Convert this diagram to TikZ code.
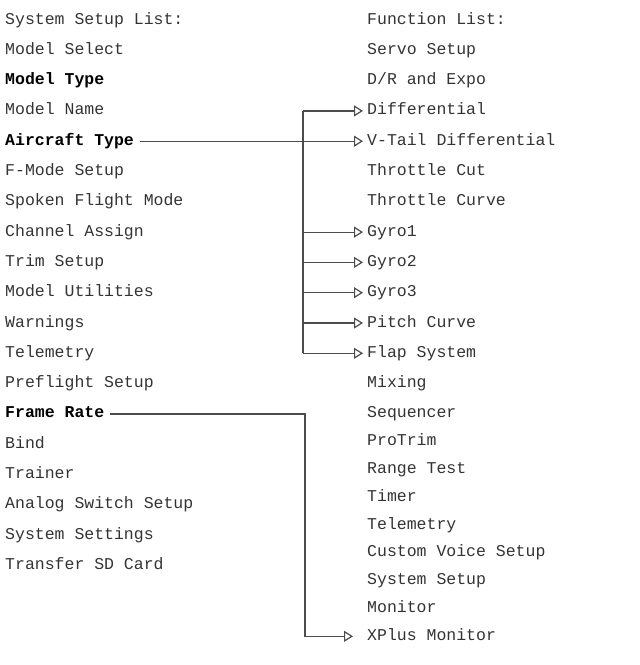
\documentclass[tikz,border=0pt]{standalone}
\usepackage{fontspec}
\setmonofont{Liberation Mono}
\usetikzlibrary{arrows.meta}
\begin{document}
\begin{tikzpicture}[x=1pt,y=-1pt,
  it/.style={anchor=west,inner sep=0pt,text height=11pt,text depth=3pt,font=\fontsize{16.5}{16}\ttfamily,text=black!80},
  bt/.style={it,font=\fontsize{16.5}{16}\ttfamily\bfseries,text=black},
  ln/.style={draw=black!70,line width=1.2pt},
  ar/.style={ln,-{Triangle[open,length=9pt,width=11pt,line width=1.2pt]}}]
\useasboundingbox (0,0) rectangle (640,665);
\foreach \t [count=\i from 0] in {System Setup List:,Model Select,,Model Name,,F-Mode Setup,Spoken Flight Mode,Channel Assign,Trim Setup,Model Utilities,Warnings,Telemetry,Preflight Setup,,Bind,Trainer,Analog Switch Setup,System Settings,Transfer SD Card}
  \node[it] (l\i) at (5,{20+30.3*\i}) {\t};
\node[bt] (mt) at (5,{20+30.3*2}) {Model Type};
\node[bt] (at) at (5,{20+30.3*4}) {Aircraft Type};
\node[bt] (fr) at (5,{20+30.3*13}) {Frame Rate};
\foreach \t [count=\i from 0] in {Function List:,Servo Setup,D/R and Expo,Differential,V-Tail Differential,Throttle Cut,Throttle Curve,Gyro1,Gyro2,Gyro3,Pitch Curve,Flap System,Mixing,Sequencer}
  \node[it] (r\i) at (367,{20+30.3*\i}) {\t};
\foreach \t [count=\i from 14] in {ProTrim,Range Test,Timer,Telemetry,Custom Voice Setup,System Setup,Monitor,XPlus Monitor}
  \node[it] (r\i) at (367,{20+30.3*13+27.8*(\i-13)}) {\t};
\coordinate (tt) at (303,{20+30.3*3});
\coordinate (tb) at (303,{20+30.3*11});
\draw[ln] (tt) -- (tb);
\draw[ar] (at.east) ++(6,0) -- ([xshift=-4pt]r4.west);
\foreach \i in {3,7,8,9,10,11}
  \draw[ar] (tt |- r\i) -- ([xshift=-4pt]r\i.west);
\coordinate (fc) at (305,0);
\draw[ar] (fr.east) ++(6,0) -| (fc |- r21) -- ([xshift=-14pt]r21.west);
\end{tikzpicture}
\end{document}
